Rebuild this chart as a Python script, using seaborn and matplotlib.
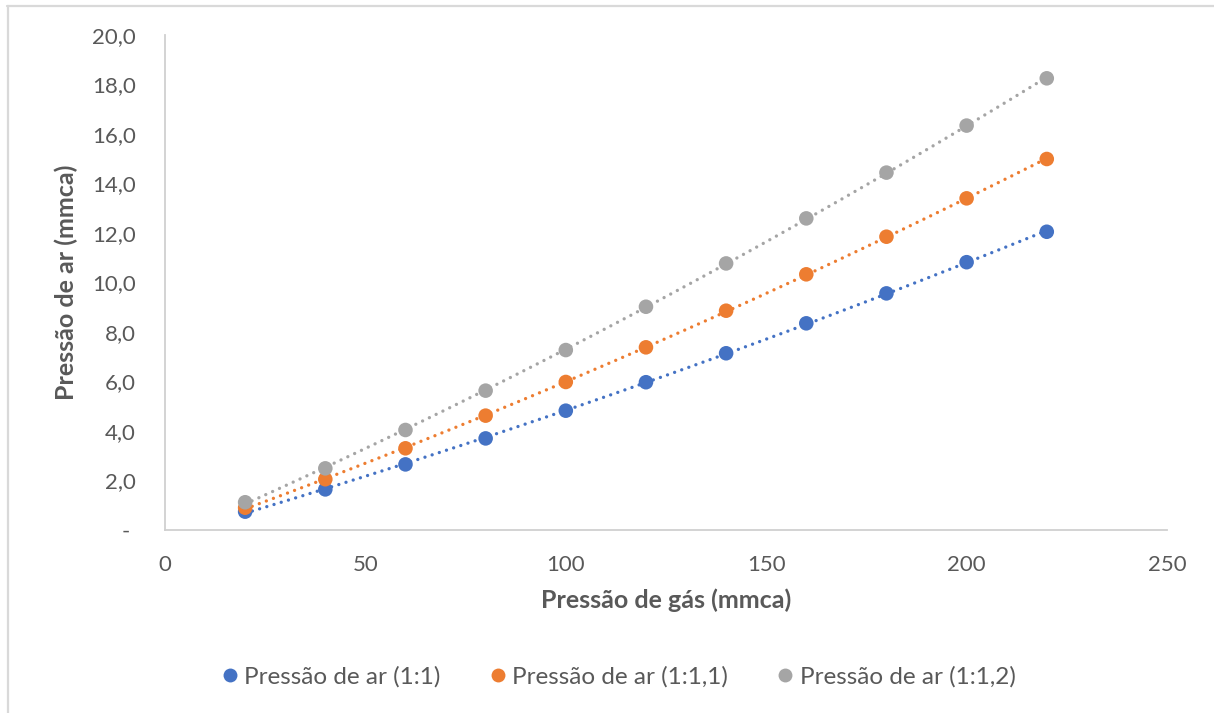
import numpy as np
import pandas as pd
import seaborn as sns
import matplotlib
matplotlib.use("Agg")
import matplotlib.pyplot as plt
from matplotlib.lines import Line2D
from matplotlib.ticker import FuncFormatter, MultipleLocator

# Gas pressure (mmca) and the resulting air pressure for three ratios
gas_pressure = [20, 40, 60, 80, 100, 120, 140, 160, 180, 200, 220]
air_1_1 = [0.74, 1.64, 2.65, 3.70, 4.82, 5.97, 7.14, 8.35, 9.56, 10.82, 12.05]
air_1_11 = [0.90, 2.05, 3.30, 4.62, 5.98, 7.38, 8.86, 10.33, 11.85, 13.40, 14.99]
air_1_12 = [1.12, 2.49, 4.04, 5.63, 7.27, 9.02, 10.77, 12.59, 14.44, 16.34, 18.25]

series_names = ["Pressão de ar (1:1)", "Pressão de ar (1:1,1)", "Pressão de ar (1:1,2)"]
series_values = [air_1_1, air_1_11, air_1_12]
colors = ["#4472C4", "#ED7D31", "#A5A5A5"]

x_label = "Pressão de gás (mmca)"
y_label = "Pressão de ar (mmca)"

sns.set_theme(style="white")
plt.rcParams["font.family"] = ["Lato", "DejaVu Sans"]
text_color = "#595959"

fig = plt.figure(figsize=(12.14, 7.13), dpi=100)
ax = fig.add_axes([0.1359, 0.2567, 0.9613 - 0.1359, 0.9509 - 0.2567])

handles = []
for name, vals, col in zip(series_names, series_values, colors):
    df = pd.DataFrame({"x": gas_pressure, "y": vals})
    # polynomial (order 2) trend line, dotted
    sns.regplot(data=df, x="x", y="y", order=2, ci=None, scatter=False, ax=ax,
                line_kws=dict(color=col, lw=2.4, ls=(0, (0.01, 2.25)),
                              dash_capstyle="round", zorder=2))
    sns.scatterplot(data=df, x="x", y="y", color=col, s=110, edgecolor="none",
                    ax=ax, zorder=3)
    handles.append(Line2D([], [], marker="o", ls="none", color=col, markersize=10,
                          markeredgewidth=0, label=name))

ax.set_xlim(0, 250)
ax.set_ylim(0, 20)
ax.xaxis.set_major_locator(MultipleLocator(50))
ax.yaxis.set_major_locator(MultipleLocator(2))
ax.yaxis.set_major_formatter(FuncFormatter(
    lambda v, p: "- " if abs(v) < 1e-9 else f"{v:.1f}".replace(".", ",")))

for side in ["top", "right"]:
    ax.spines[side].set_visible(False)
for side in ["left", "bottom"]:
    ax.spines[side].set_color("#D0D0D0")
    ax.spines[side].set_linewidth(1.3)

ax.tick_params(axis="both", length=0, labelsize=16, labelcolor=text_color)
ax.tick_params(axis="y", pad=21)
ax.tick_params(axis="x", pad=18)

ax.set_xlabel(x_label, fontsize=18, fontweight="bold", color=text_color, labelpad=10)
ax.set_ylabel(y_label, fontsize=18, fontweight="bold", color=text_color, labelpad=10)

fig.legend(handles=handles, loc="center", bbox_to_anchor=(0.507, 1 - 677 / 713),
           ncol=3, frameon=False, fontsize=17.5, handlelength=1.2,
           handletextpad=0.0, columnspacing=1.75, labelcolor=text_color)

# light frame along top and left edges of the figure
fig.add_artist(Line2D([7 / 1214, 1.0], [1 - 5.5 / 713, 1 - 5.5 / 713],
                      transform=fig.transFigure, color="#D9D9D9", lw=1.6))
fig.add_artist(Line2D([7.5 / 1214, 7.5 / 1214], [0, 1 - 5.5 / 713],
                      transform=fig.transFigure, color="#D9D9D9", lw=1.6))

fig.savefig("out.png", dpi=100, facecolor="white")
